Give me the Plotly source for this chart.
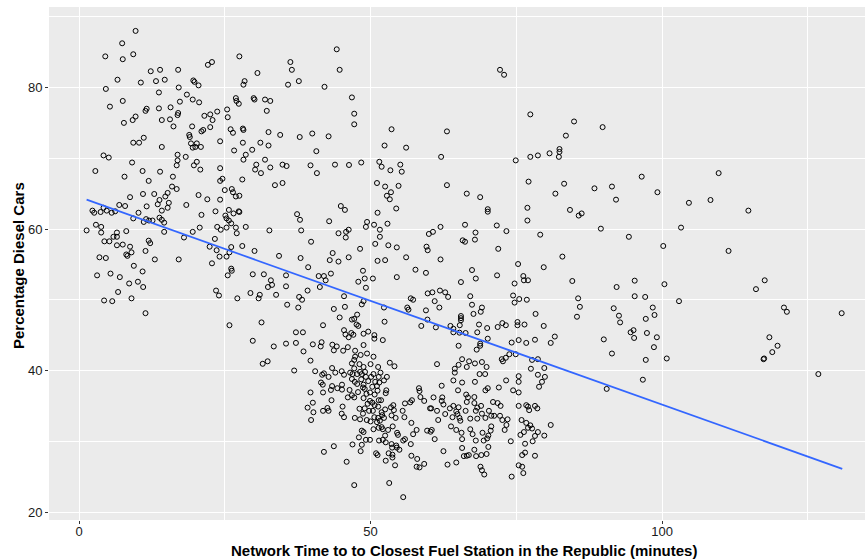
import plotly.graph_objects as go

# (network time in minutes, percentage diesel cars), grouped by region
upper_left = [(9.7,88.0),(7.4,86.25),(4.5,84.4),(7.5,84.0),(9.3,84.7),(12.3,82.3),(13.9,82.5),(17.0,82.5),(6.6,81.1),(10.6,80.7),(13.2,80.9),(14.7,81.1),(19.6,81.0),(19.8,80.8),(20.5,80.3),(22.1,83.2),(22.8,83.6),(27.5,84.4),(4.6,79.8),(17.1,80.0),(13.7,79.3),(7.5,78.1),(18.5,79.0),(17.3,78.0),(19.5,78.3),(20.6,77.9),(5.3,77.3),(11.6,77.0),(11.4,76.7),(13.7,77.05),(15.7,77.2),(17.0,76.4),(16.9,76.1),(9.7,75.9),(9.2,75.4),(7.7,75.0),(14.2,75.4),(15.6,75.5),(16.2,74.5),(19.4,74.5),(21.5,76.0),(22.5,76.2),(23.7,76.6),(22.9,75.4),(22.5,74.4),(25.4,76.9),(25.5,75.8),(26.9,78.5),(27.0,78.1),(27.4,77.7),(26.0,74.1),(26.4,73.6),(18.9,73.3),(19.0,73.0),(21.0,73.8),(21.3,74.0),(11.1,72.9),(9.3,72.2),(10.3,72.2),(19.2,72.1),(20.2,72.1),(19.5,71.5),(19.95,71.6),(20.9,71.6),(24.2,72.4),(14.2,71.6),(26.6,71.1),(4.2,70.4),(5.1,70.1),(16.9,70.5),(18.3,70.2),(9.1,69.4),(16.9,69.7),(16.75,69.0),(20.2,69.5),(19.7,69.0),(20.8,68.4),(24.2,68.6),(2.8,68.2),(7.8,67.4),(10.9,68.2),(13.9,68.1),(16.1,67.4),(24.6,67.1)]

upper_mid = [(36.25,83.6),(36.5,82.5),(44.2,85.4),(44.7,82.5),(30.6,82.05),(28.4,80.9),(28.2,80.4),(35.85,80.4),(37.7,80.9),(42.1,80.1),(29.95,78.5),(30.1,78.3),(31.9,78.3),(32.8,78.1),(32.2,76.7),(46.8,78.6),(47.2,76.3),(47.2,74.8),(53.6,74.1),(28.1,74.2),(28.2,74.0),(32.5,73.7),(34.5,73.3),(37.85,73.0),(40.0,73.5),(42.8,73.1),(28.1,72.2),(31.1,72.2),(32.5,71.8),(29.7,71.2),(28.6,70.5),(28.2,69.8),(31.9,69.8),(40.7,71.0),(30.4,69.1),(30.2,68.4),(31.2,67.9),(32.8,68.7),(34.9,69.1),(35.6,68.9),(39.7,69.0),(40.8,67.9),(43.9,69.1),(46.3,69.05),(48.4,69.4),(52.4,71.8),(56.1,71.5),(51.5,69.5),(51.9,68.8),(53.4,68.3),(55.1,69.1),(55.35,68.1),(28.0,67.0)]

upper_right = [(72.2,82.5),(72.9,81.8),(77.4,76.2),(84.9,75.2),(89.8,74.4),(63.1,73.8),(83.5,73.2),(62.1,70.2),(74.9,69.7),(77.4,70.2),(78.7,70.4),(80.7,70.7),(82.4,71.3),(82.4,70.9),(82.3,70.2),(96.5,67.4),(109.7,67.9)]

middle_left = [(24.2,66.8),(11.95,66.8),(15.95,66.0),(16.75,65.65),(10.97,64.95),(12.9,64.95),(15.2,65.1),(14.8,64.6),(13.8,64.1),(8.75,64.5),(13.5,63.5),(15.4,63.7),(11.6,63.2),(15.2,63.0),(14.2,62.6),(6.9,63.4),(7.9,63.25),(10.2,62.3),(9.3,61.5),(11.5,61.4),(11.1,61.0),(12.0,61.2),(12.6,61.2),(13.8,61.6),(14.2,61.3),(14.6,60.9),(14.6,59.6),(18.4,63.4),(20.5,64.8),(22.0,64.2),(24.2,64.15),(25.0,65.5),(26.2,65.65),(26.4,65.2),(26.9,64.6),(27.4,62.5),(23.4,62.5),(21.0,62.0),(25.7,62.7),(26.5,62.2),(25.1,61.9),(25.3,61.5),(25.7,61.2),(26.1,60.8),(26.9,60.2),(27.05,59.4),(23.7,60.3),(24.3,59.9),(25.3,60.2),(20.7,60.2),(19.5,59.6),(18.0,58.8),(23.3,58.6),(22.4,57.5),(23.6,57.0),(26.1,57.45),(25.8,56.7),(24.1,56.1),(25.3,56.1),(22.8,55.15),(17.1,55.7),(13.0,55.7),(11.4,56.9),(11.95,58.35),(12.2,58.0),(8.1,59.7),(6.5,59.5),(5.9,58.9),(6.5,58.9),(4.35,58.26),(5.2,58.26),(6.5,57.7),(7.5,57.8),(8.75,57.5),(9.0,56.7),(8.1,56.4),(8.3,56.2),(9.4,54.8),(10.9,54.0),(3.5,56.0),(4.6,55.9),(3.1,53.45),(5.4,53.7),(7.0,53.2),(8.6,52.3),(10.1,52.55),(11.0,51.8),(6.7,51.1),(4.3,49.9),(5.7,49.8),(9.0,50.2),(11.4,48.1),(1.3,59.8),(2.9,60.6),(3.8,60.3),(3.8,59.5),(2.3,62.6),(2.6,62.3),(3.7,62.4),(4.2,63.0),(4.75,62.6),(5.6,62.3),(6.2,62.5),(23.5,51.3),(24.0,50.6),(26.1,54.4),(26.2,54.1),(25.5,53.45),(27.15,50.2),(25.8,46.4)]

middle_mid = [(33.6,66.2),(34.9,66.5),(27.5,64.7),(27.5,62.4),(28.6,60.3),(32.65,59.8),(37.4,62.1),(37.9,61.3),(38.1,59.8),(42.9,61.1),(44.9,63.25),(45.6,62.7),(44.5,59.4),(45.8,59.6),(46.25,59.9),(45.75,58.8),(39.8,58.2),(28.0,57.6),(30.1,56.9),(34.3,56.2),(38.0,55.9),(43.5,56.6),(43.0,55.6),(44.5,55.4),(46.25,56.0),(48.2,57.2),(39.3,54.6),(29.8,53.6),(31.7,53.6),(32.9,52.75),(32.4,51.8),(33.1,52.1),(35.5,53.45),(35.5,51.9),(41.1,53.35),(42.0,53.35),(43.2,53.7),(42.3,52.75),(41.3,51.8),(39.2,51.3),(48.7,54.1),(49.0,53.0),(47.9,52.55),(49.2,51.7),(50.4,53.0),(29.4,50.95),(31.0,50.7),(30.8,50.2),(33.8,50.7),(37.75,50.4),(38.25,50.0),(45.45,50.5),(48.5,49.35),(48.8,49.8),(35.7,49.3),(37.6,48.9),(43.7,48.7),(45.6,49.0),(47.7,47.9),(44.7,47.5),(47.2,47.3),(46.8,47.2),(47.6,46.5),(47.9,46.3),(41.85,46.4),(31.3,46.8),(45.45,45.7),(45.7,45.1),(46.25,44.7),(46.7,45.3),(47.05,45.05),(48.8,45.2),(49.6,45.5),(37.2,45.4),(38.4,45.4),(29.8,44.2),(33.4,43.4),(35.5,43.8),(37.2,43.9),(40.1,43.7),(41.6,44.0),(41.45,43.4),(43.45,43.65),(44.2,43.4),(46.1,43.3),(48.8,43.6),(50.65,45.0),(50.65,44.5),(52.1,44.3),(51.1,66.5),(52.5,66.0),(54.8,66.1),(52.8,64.7),(53.5,65.2),(53.3,64.2),(54.4,62.9),(51.2,62.3),(52.9,60.75),(50.6,60.6),(49.2,60.3),(49.4,61.0),(51.6,59.9),(51.6,58.9),(50.8,57.9),(53.05,57.7),(54.5,57.4),(52.5,55.6),(51.2,55.5),(56.1,56.0),(60.0,59.3),(59.6,57.5),(59.8,57.0),(57.7,54.25),(54.5,53.2),(59.5,53.8),(56.9,50.2),(57.3,50.0),(59.8,50.9),(52.3,48.9),(56.3,48.9),(56.5,48.6),(59.5,48.5),(52.4,46.9),(59.75,47.2),(58.7,46.3)]

middle_right = [(63.1,66.2),(66.5,65.0),(68.8,64.5),(70.1,62.8),(70.1,62.45),(77.1,66.7),(83.2,66.4),(81.7,65.0),(88.4,65.75),(91.4,66.0),(92.1,64.15),(76.9,63.0),(76.9,61.2),(84.2,62.7),(85.7,61.9),(86.2,62.2),(89.5,60.05),(94.3,58.9),(66.2,60.6),(71.65,60.5),(73.3,59.7),(68.0,59.5),(67.9,58.5),(65.8,58.4),(66.2,58.2),(62.0,60.3),(60.7,59.6),(71.9,57.2),(79.1,59.2),(62.0,55.7),(82.9,56.1),(75.3,55.05),(79.7,54.6),(67.4,54.2),(71.7,53.45),(68.05,53.0),(65.5,52.5),(76.2,53.35),(76.3,52.75),(77.0,52.75),(74.7,52.3),(84.6,52.65),(95.3,52.7),(92.2,51.8),(61.9,51.3),(62.8,51.05),(63.3,50.4),(60.6,51.05),(61.0,49.8),(61.8,48.9),(67.1,50.5),(67.4,49.3),(69.1,48.9),(68.9,48.3),(67.65,48.0),(65.5,47.7),(65.5,47.4),(65.5,47.1),(74.45,50.6),(75.5,50.1),(76.8,50.0),(74.7,49.6),(78.3,48.0),(85.6,50.2),(85.9,49.0),(85.4,47.6),(91.7,48.8),(92.6,47.75),(92.8,46.8),(95.3,50.5),(95.1,45.7),(94.6,45.4),(95.2,44.6),(90.0,44.4),(61.2,46.1),(63.7,46.3),(64.2,45.9),(64.2,45.4),(65.3,46.4),(65.25,45.35),(66.3,45.3),(68.6,46.5),(68.3,45.4),(70.0,46.0),(71.8,46.15),(72.6,46.7),(73.2,46.4),(75.2,46.85),(75.2,46.4),(76.4,46.5),(79.7,46.3),(81.6,44.8),(70.1,44.5),(68.8,43.8),(68.8,43.5),(65.1,43.5),(74.2,43.95),(75.4,44.3),(76.7,43.9),(78.2,44.35),(80.9,43.9)]

far_right = [(99.2,65.2),(104.6,63.7),(108.3,64.1),(114.8,62.6),(103.25,60.2),(100.2,57.6),(111.4,56.9),(100.4,52.2),(117.6,52.75),(116.1,51.5),(97.1,50.4),(102.9,49.8),(98.4,48.9),(98.7,47.85),(97.2,47.3),(97.4,45.3),(99.1,44.7),(98.6,43.3),(97.2,41.5),(100.8,41.7),(120.9,48.9),(121.4,48.3),(130.8,48.1),(118.4,44.7),(119.8,43.5),(118.9,42.6),(117.4,41.6),(117.5,41.7),(96.7,38.7),(126.8,39.5)]

lower_mid = [(43.7,42.85),(45.3,42.8),(47.35,42.8),(38.5,42.7),(31.5,40.95),(32.35,41.3),(36.9,40.0),(39.7,41.4),(40.5,39.9),(41.7,39.4),(42.0,39.6),(42.8,39.1),(41.5,38.3),(41.8,38.0),(43.4,40.35),(43.95,39.7),(45.05,39.9),(45.45,39.4),(46.5,39.7),(46.9,39.5),(46.8,41.0),(47.2,41.5),(47.35,41.95),(48.3,42.2),(49.4,42.4),(50.5,41.95),(48.1,40.9),(48.8,40.5),(50.0,40.9),(51.3,40.5),(47.2,40.3),(48.2,39.8),(47.7,39.5),(48.5,39.5),(49.05,39.8),(49.2,39.1),(50.1,39.1),(50.5,39.5),(51.7,39.7),(52.8,39.1),(52.3,38.6),(51.4,39.1),(53.3,41.1),(54.1,40.6),(46.8,38.8),(47.3,38.4),(47.7,38.1),(48.8,38.0),(48.7,37.6),(49.0,37.4),(49.3,36.7),(48.8,36.1),(49.9,36.9),(50.8,38.4),(51.1,37.8),(51.5,38.3),(51.2,37.15),(52.7,37.2),(52.6,36.8),(45.1,38.0),(45.1,37.3),(46.4,37.25),(43.4,37.8),(43.2,37.25),(44.3,37.5),(41.85,36.9),(39.7,36.9),(40.1,35.45),(43.3,35.8),(47.85,36.95),(47.2,36.2),(46.1,36.2),(46.8,36.5),(49.9,35.7),(49.5,35.3),(50.3,35.45),(50.7,35.1),(51.4,35.8),(51.8,35.8),(51.3,34.9),(50.4,34.3),(49.75,34.3),(49.0,34.65),(48.1,34.6),(48.7,33.9),(48.2,33.1),(45.2,34.9),(45.05,33.9),(45.45,33.4),(39.2,34.75),(40.2,34.1),(39.8,33.0),(41.85,34.3),(42.6,34.7),(42.8,34.3),(47.3,33.3),(49.35,33.0),(50.0,32.8),(50.65,33.4),(51.3,33.3),(51.1,32.7),(51.6,32.9),(52.0,33.7),(52.3,33.3),(51.9,34.1),(52.5,34.5),(53.5,34.8),(54.0,34.4),(53.9,35.1),(53.6,33.65),(54.3,33.3),(55.9,35.35),(56.8,35.5),(57.1,35.8),(55.5,34.3),(55.8,33.4),(57.0,32.6),(58.3,37.5),(58.4,37.1),(58.55,36.25),(59.2,35.7),(60.2,34.65),(50.5,31.7),(51.9,32.0),(52.1,31.7),(51.4,31.9),(48.5,31.5),(48.8,31.3),(53.0,31.6),(52.5,30.8),(53.8,32.1),(54.55,31.2),(54.7,30.9),(55.9,30.3),(55.6,30.1),(57.3,31.0),(57.9,31.6),(59.7,31.5),(56.9,29.6),(48.0,30.55),(49.2,30.2),(49.9,30.2),(51.45,30.1),(52.1,30.2),(52.6,29.85),(53.6,29.6),(54.4,29.4),(54.5,29.1),(54.95,28.8),(53.7,29.1),(53.1,28.3),(53.75,28.1),(53.75,27.7),(54.2,26.6),(52.6,27.25),(50.95,28.3),(51.2,28.05),(48.5,29.5),(46.9,29.55),(48.3,28.6),(43.7,29.3),(42.0,28.5),(45.9,27.1),(47.2,23.8),(53.2,24.1),(55.6,22.1),(57.0,27.95),(58.0,27.5),(57.9,26.4),(58.4,26.3),(59.2,26.8),(49.6,38.5),(48.4,38.75),(50.3,37.7),(50.7,36.6)]

lower_right = [(68.2,42.95),(65.7,41.6),(66.9,41.3),(65.1,40.8),(66.5,40.5),(67.9,41.0),(69.1,41.2),(69.9,40.5),(64.45,40.25),(64.45,39.7),(61.4,40.9),(68.7,39.5),(69.65,39.5),(72.5,41.6),(72.7,41.3),(73.2,41.8),(73.8,42.3),(74.9,42.3),(77.7,41.5),(78.7,41.6),(79.8,40.35),(77.5,40.25),(78.7,39.4),(79.9,39.1),(79.4,38.4),(78.9,37.7),(75.4,39.2),(75.4,38.4),(75.4,36.9),(74.45,37.2),(73.25,38.6),(72.0,37.6),(70.1,37.5),(69.7,37.2),(64.2,38.6),(65.7,38.3),(67.9,38.4),(65.0,37.2),(62.2,37.85),(60.8,36.2),(62.3,36.2),(62.2,35.7),(62.5,35.2),(60.4,34.65),(61.4,34.3),(62.8,33.85),(61.6,33.0),(63.6,34.65),(64.2,35.0),(65.1,34.8),(64.7,34.2),(64.9,33.85),(64.05,33.4),(65.4,32.9),(65.25,33.3),(66.4,36.6),(66.7,36.2),(66.5,35.55),(67.8,36.25),(67.8,35.4),(66.3,34.3),(67.1,33.2),(68.3,33.2),(68.05,34.3),(68.3,34.75),(68.95,35.0),(69.1,33.9),(69.7,33.3),(70.3,34.3),(70.7,33.6),(71.0,35.55),(71.8,35.4),(72.3,35.0),(71.2,33.6),(72.2,33.6),(72.6,33.0),(73.5,33.1),(73.3,32.3),(73.0,31.6),(70.7,32.1),(70.6,31.5),(70.2,30.8),(70.0,30.4),(69.2,31.2),(67.5,31.0),(67.1,31.7),(65.6,31.2),(64.7,31.6),(63.8,32.1),(60.5,31.6),(60.3,31.35),(61.0,30.3),(65.7,30.3),(68.05,30.1),(69.4,30.1),(70.2,29.2),(74.05,30.0),(75.9,33.0),(76.7,32.6),(76.3,31.3),(75.7,30.9),(77.4,32.25),(77.0,31.9),(77.7,31.8),(78.7,31.3),(78.2,30.75),(77.8,30.0),(79.8,30.8),(80.9,32.3),(75.4,35.0),(76.7,35.1),(77.0,34.9),(77.2,34.4),(78.2,35.0),(78.6,34.65),(76.5,29.65),(76.5,28.4),(76.0,28.05),(78.2,27.95),(75.4,26.6),(76.0,26.4),(76.2,25.5),(74.2,25.0),(68.85,26.4),(69.1,25.9),(69.5,25.3),(65.7,29.05),(67.8,28.8),(69.9,28.2),(69.0,28.05),(68.1,27.9),(66.85,28.05),(66.5,27.95),(66.0,27.9),(64.7,27.0),(63.2,26.7),(62.5,28.6),(91.4,42.4),(90.5,37.4)]

# fitted linear trend
trend_time = [1.3, 130.9]
trend_pct = [64.15, 26.1]

x_ticks = [0, 50, 100]
y_ticks = [20, 40, 60, 80]
x_title = "Network Time to to Closest Fuel Station in the Republic (minutes)"
y_title = "Percentage Diesel Cars"

all_points = upper_left + upper_mid + upper_right + middle_left + middle_mid + middle_right + far_right + lower_mid + lower_right
times = [p[0] for p in all_points]
pcts = [p[1] for p in all_points]

fig = go.Figure()
fig.add_trace(go.Scatter(
    x=times, y=pcts, mode="markers",
    marker=dict(symbol="circle-open", size=5, color="black", line=dict(width=1)),
    showlegend=False, hoverinfo="x+y"))
fig.add_trace(go.Scatter(
    x=trend_time, y=trend_pct, mode="lines",
    line=dict(color="#3366FF", width=1.7), showlegend=False))

axis_common = dict(
    showgrid=True, gridcolor="white", gridwidth=1.1,
    zeroline=False, showline=False, automargin=False,
    ticks="outside", ticklen=3, tickwidth=1, tickcolor="#333333",
    tickfont=dict(family="Liberation Sans, Arial, sans-serif", size=13, color="#1a1a1a"),
)
title_font = dict(family="Liberation Sans Narrow, Arial Narrow, Liberation Sans, sans-serif", size=15, color="black")

fig.update_layout(
    width=865, height=559,
    margin=dict(l=49, r=0, t=7, b=39, autoexpand=False),
    paper_bgcolor="white", plot_bgcolor="#EBEBEB",
    xaxis=dict(range=[-5.15, 134.8], tickvals=x_ticks, ticktext=[str(v) for v in x_ticks],
               ticklabelstandoff=-4,
               minor=dict(showgrid=True, gridcolor="white", gridwidth=0.5, tickvals=[25, 75, 125], ticks=""),
               **axis_common),
    yaxis=dict(range=[18.87, 91.38], tickvals=y_ticks, ticktext=[str(v) for v in y_ticks],
               minor=dict(showgrid=True, gridcolor="white", gridwidth=0.5, tickvals=[30, 50, 70, 90], ticks=""),
               **axis_common),
    annotations=[
        dict(text="<b>" + x_title + "</b>", xref="paper", yref="paper", x=0.5086, y=-0.0585,
             xanchor="center", yanchor="middle", showarrow=False, font=title_font),
        dict(text="<b>" + y_title + "</b>", xref="paper", yref="paper", x=-0.038, y=0.497,
             xanchor="center", yanchor="middle", textangle=-90, showarrow=False, font=title_font),
    ],
)

# remove the browser's default 8px page margin so the figure sits at the window's corner
fig.write_html("out.html", config={"displayModeBar": False},
               post_script="document.body.style.margin='0';")
